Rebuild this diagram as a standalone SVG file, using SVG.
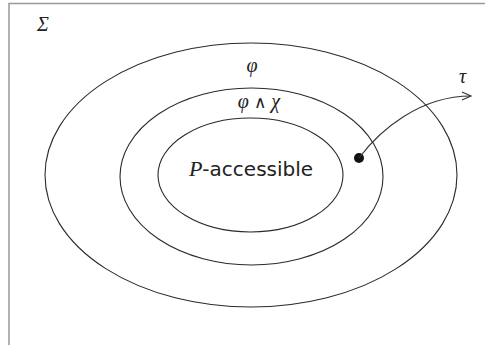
<svg xmlns="http://www.w3.org/2000/svg" width="485" height="345" viewBox="0 0 485 345">
<style>
.set{fill:none;stroke:#2a2a2a;stroke-width:1.1}
.math{font-family:"Liberation Serif",serif;font-style:italic;fill:#222}
.sans{font-family:"DejaVu Sans",sans-serif;fill:#222}
</style>
<defs>
<marker id="arr" markerWidth="12" markerHeight="10" refX="10" refY="5" orient="auto" markerUnits="userSpaceOnUse">
<path d="M1,1 L10,5 L1,9" fill="none" stroke="#333" stroke-width="1.1"/>
</marker>
</defs>
<rect x="0" y="0" width="485" height="345" fill="#fff"/>
<rect id="frame" x="9" y="3.5" width="520" height="400" fill="none" stroke="#999" stroke-width="1.5"/>
<g id="sigma"><text class="math" x="37" y="31" font-size="20">Σ</text></g>
<g id="phi">
<ellipse class="set" cx="251" cy="175" rx="206" ry="132"/>
<text class="math" x="252" y="72" font-size="20" text-anchor="middle">φ</text>
</g>
<g id="phi-and-chi">
<ellipse class="set" cx="251.5" cy="176.5" rx="131.5" ry="88.5" stroke-width="1.3"/>
<text class="math" x="259" y="108" font-size="20" text-anchor="middle">φ <tspan font-style="normal" font-family="'DejaVu Sans',sans-serif" font-size="17">∧</tspan> χ</text>
</g>
<g id="p-accessible">
<ellipse class="set" cx="250.5" cy="175" rx="92.5" ry="57"/>
<text x="251" y="176" font-size="20" text-anchor="middle" class="sans"><tspan class="math" font-size="22">P</tspan>-accessible</text>
</g>
<g id="state"><circle cx="359" cy="158" r="5" fill="#111"/></g>
<g id="connectors">
<path d="M359,158 C380,130 420,96 471,96" fill="none" stroke="#333" stroke-width="1.1" marker-end="url(#arr)"/>
</g>
<g id="tau-label"><text class="math" x="459" y="83" font-size="20">τ</text></g>
</svg>
